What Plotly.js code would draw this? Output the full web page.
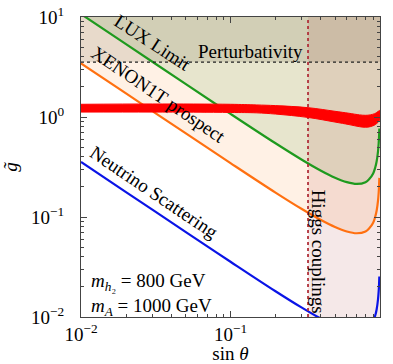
<!DOCTYPE html>
<html>
<head>
<meta charset="utf-8">
<script src="https://cdn.plot.ly/plotly-3.0.1.min.js"></script>
<style>html,body{margin:0;padding:0;background:#fff}#chart{width:393px;height:364px}</style>
</head>
<body>
<div id="chart"></div>
<script>
// ---- data (sin(theta), g~) ----
const sinTheta = [0.01, 0.02, 0.05, 0.1, 0.2, 0.3, 0.4, 0.5, 0.6, 0.7, 0.8, 0.85, 0.9, 0.93, 0.95, 0.97, 0.98, 0.985, 0.99];
const luxLimit = [10.70, 5.35, 2.143, 1.075, 0.546, 0.374, 0.292, 0.247, 0.223, 0.214, 0.223, 0.241, 0.273, 0.314, 0.361, 0.454, 0.549, 0.627, 0.766];
const xenon1T  = [3.44, 1.72, 0.689, 0.346, 0.1755, 0.1202, 0.0938, 0.0794, 0.0717, 0.0688, 0.0717, 0.0775, 0.0877, 0.101, 0.116, 0.146, 0.176, 0.202, 0.246];
const neutrino = [0.355, 0.1776, 0.0711, 0.0357, 0.0181, 0.0124, 0.00968, 0.0082, 0.0074, 0.0071, 0.0074, 0.0080, 0.00905, 0.0104, 0.01197, 0.01505, 0.01821, 0.0208, 0.0254];

const bandSin   = [0.01, 0.03, 0.1, 0.15, 0.2, 0.33, 0.5, 0.62, 0.73, 0.8, 0.86, 0.92, 0.95, 0.975, 0.99, 1.0];
const bandUpper = [1.34, 1.35, 1.34, 1.32, 1.30, 1.24, 1.14, 1.09, 1.05, 1.04, 1.05, 1.08, 1.11, 1.14, 1.16, 1.15];
const bandLower = [1.12, 1.12, 1.11, 1.10, 1.07, 0.99, 0.89, 0.84, 0.80, 0.79, 0.80, 0.83, 0.86, 0.89, 0.92, 0.95];

const perturbativity = 3.54;   // g~ limit
const higgsSin = 0.33;         // sin(theta) limit

const xRange = [0.01, 1];
const yRange = [0.01, 10];

const xTickVals = [0.01, 0.1, 1];
const xTickText = ['10<sup>−2</sup>', '10<sup>−1</sup>', '10<sup>0</sup>'];
const yTickVals = [0.01, 0.1, 1, 10];
const yTickText = ['10<sup>−2</sup>', '10<sup>−1</sup>', '10<sup>0</sup>', '10<sup>1</sup>'];

const serif = 'Liberation Serif, Times New Roman, serif';

function regionAbove(xs, ys) {
  return {
    x: xs.concat([xRange[1], xRange[1], xRange[0]]),
    y: ys.concat([ys[ys.length - 1], yRange[1], yRange[1]])
  };
}

const orangeReg = regionAbove(sinTheta, xenon1T);
const greenReg = regionAbove(sinTheta, luxLimit);

const traces = [
  {x: orangeReg.x, y: orangeReg.y, fill: 'toself', fillcolor: 'rgba(255,127,14,0.11)', line: {width: 0}, mode: 'lines', hoverinfo: 'skip'},
  {x: greenReg.x, y: greenReg.y, fill: 'toself', fillcolor: 'rgba(60,150,30,0.12)', line: {width: 0}, mode: 'lines', hoverinfo: 'skip'},
  {x: [xRange[0], xRange[1], xRange[1], xRange[0]], y: [perturbativity, perturbativity, yRange[1], yRange[1]], fill: 'toself', fillcolor: 'rgba(50,40,0,0.11)', line: {width: 0}, mode: 'lines', hoverinfo: 'skip'},
  {x: [higgsSin, xRange[1], xRange[1], higgsSin], y: [yRange[0], yRange[0], yRange[1], yRange[1]], fill: 'toself', fillcolor: 'rgba(155,25,25,0.10)', line: {width: 0}, mode: 'lines', hoverinfo: 'skip'},
  {x: sinTheta, y: luxLimit, mode: 'lines', line: {color: '#1e9a1e', width: 2.2, shape: 'spline'}},
  {x: sinTheta, y: xenon1T, mode: 'lines', line: {color: '#ff7010', width: 2.2, shape: 'spline'}},
  {x: sinTheta, y: neutrino, mode: 'lines', line: {color: '#0a14e6', width: 2.2, shape: 'spline'}},
  {x: xRange, y: [perturbativity, perturbativity], mode: 'lines', line: {color: '#222', width: 1.2, dash: 'dot'}},
  {x: [higgsSin, higgsSin], y: yRange, mode: 'lines', line: {color: '#b0303a', width: 1.8, dash: 'dot'}},
  {x: bandSin.concat(bandSin.slice().reverse()), y: bandUpper.concat(bandLower.slice().reverse()), fill: 'toself', fillcolor: '#ff0000', line: {color: '#ff0000', width: 1, shape: 'spline'}, mode: 'lines'}
];

const annFont = {family: serif, size: 19, color: '#000'};
const lg = Math.log10;
const annotations = [
  {x: lg(0.0300), y: lg(5.5), text: 'LUX Limit', textangle: 33},
  {x: lg(0.0330), y: lg(1.68), text: 'XENON1T prospect', textangle: 34},
  {x: lg(0.0310), y: lg(0.175), text: 'Neutrino Scattering', textangle: 34},
  {x: lg(0.136), y: lg(4.50), text: 'Perturbativity', textangle: 0},
  {x: lg(0.385), y: lg(0.045), text: 'Higgs couplings', textangle: 90},
  {x: lg(0.0113), xref: 'x', y: -0.012, yref: 'paper', text: '<i>m</i><sub><i>h</i>₂</sub> = 800 GeV<br><i>m</i><sub><i>A</i></sub> = 1000 GeV', textangle: 0, xanchor: 'left', yanchor: 'bottom', align: 'left'}
].map(a => Object.assign({xref: 'x', yref: 'y', showarrow: false, font: annFont}, a));

const axisCommon = {
  type: 'log',
  showline: true, linecolor: '#444', linewidth: 1, mirror: 'allticks',
  ticks: 'inside', ticklen: 6, tickcolor: '#444', tickwidth: 1,
  tickmode: 'array',
  showgrid: false, zeroline: false,
  tickfont: {family: serif, size: 19, color: '#000'},
  minor: {dtick: 'D1', ticks: 'inside', ticklen: 3, tickcolor: '#444', showgrid: false}
};

const layout = {
  width: 393, height: 364,
  margin: {l: 81, r: 13, t: 17, b: 47},
  paper_bgcolor: '#fff', plot_bgcolor: '#fff',
  showlegend: false,
  font: {family: serif},
  xaxis: Object.assign({}, axisCommon, {
    range: [lg(xRange[0]), lg(xRange[1])],
    tickvals: xTickVals, ticktext: xTickText,
    automargin: false,
    title: {text: 'sin <i>θ</i>', font: {family: serif, size: 19, color: '#000'}, standoff: 6}
  }),
  yaxis: Object.assign({}, axisCommon, {
    range: [lg(yRange[0]), lg(yRange[1])],
    tickvals: yTickVals, ticktext: yTickText,
    automargin: false,
    ticklabelstandoff: 12,
    title: {text: '<i>g̃</i>', font: {family: serif, size: 19, color: '#000'}, standoff: 12}
  }),
  annotations: annotations
};

Plotly.newPlot('chart', traces, layout, {staticPlot: true, displayModeBar: false});
</script>
</body>
</html>
